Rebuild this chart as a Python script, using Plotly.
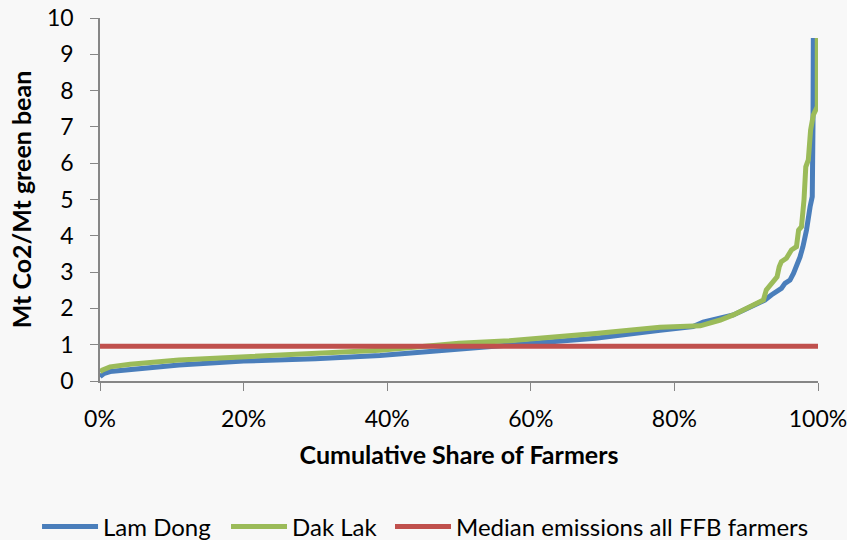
import plotly.graph_objects as go

# Cumulative share of farmers (fraction) and emissions (Mt CO2 / Mt green bean)
lam_dong_share = [0.0, 0.005, 0.014, 0.042, 0.11, 0.20, 0.30, 0.39, 0.50, 0.57, 0.69, 0.78,
                  0.826, 0.84, 0.864, 0.882, 0.896, 0.914, 0.926, 0.935, 0.942, 0.949, 0.954,
                  0.961, 0.966, 0.970, 0.975, 0.979, 0.984, 0.989, 0.992, 0.993, 0.9935]
lam_dong_vals = [0.12, 0.20, 0.26, 0.32, 0.44, 0.55, 0.61, 0.70, 0.88, 0.99, 1.18, 1.40,
                 1.50, 1.62, 1.75, 1.82, 1.95, 2.10, 2.23, 2.37, 2.46, 2.55, 2.69,
                 2.78, 2.97, 3.15, 3.42, 3.70, 4.16, 4.80, 5.08, 7.0, 9.45]

dak_lak_share = [0.0, 0.003, 0.014, 0.042, 0.11, 0.20, 0.30, 0.39, 0.50, 0.57, 0.69, 0.78,
                 0.836, 0.864, 0.882, 0.896, 0.914, 0.924, 0.928, 0.933, 0.943, 0.946, 0.949,
                 0.956, 0.963, 0.970, 0.973, 0.977, 0.9805, 0.983, 0.9865, 0.9897, 0.9935,
                 0.999, 0.999]
dak_lak_vals = [0.25, 0.30, 0.39, 0.46, 0.58, 0.67, 0.78, 0.85, 1.04, 1.11, 1.31, 1.48,
                1.52, 1.68, 1.82, 1.96, 2.14, 2.23, 2.51, 2.64, 2.87, 3.15, 3.29,
                3.38, 3.61, 3.70, 4.16, 4.25, 4.99, 5.90, 6.09, 6.91, 7.33,
                7.56, 9.45]

median_share = [0.0, 1.0]
median_vals = [0.96, 0.96]

x_tickvals = [0, 0.2, 0.4, 0.6, 0.8, 1.0]

FONT = "Lato"
BG = "#f8f8f8"

fig = go.Figure()
fig.add_trace(go.Scatter(x=lam_dong_share, y=lam_dong_vals, mode="lines", name="Lam Dong",
                         line=dict(color="#4A7EBB", width=5), legend="legend"))
fig.add_trace(go.Scatter(x=dak_lak_share, y=dak_lak_vals, mode="lines", name="Dak Lak",
                         line=dict(color="#9BBB59", width=5), legend="legend2"))
fig.add_trace(go.Scatter(x=median_share, y=median_vals, mode="lines",
                         name="Median emissions all FFB farmers",
                         line=dict(color="#C0504D", width=5), legend="legend3"))

leg_common = dict(orientation="h", xanchor="left", y=-0.34, yanchor="top",
                  font=dict(size=24), itemwidth=56, tracegroupgap=0,
                  bgcolor="rgba(0,0,0,0)")

fig.update_layout(
    width=847, height=540,
    margin=dict(l=100, r=29, t=18, b=159, autoexpand=False),
    paper_bgcolor=BG, plot_bgcolor=BG,
    font=dict(family=FONT, size=23, color="#000000"),
    showlegend=True,
    legend=dict(x=-0.0877, **leg_common),
    legend2=dict(x=0.1755, **leg_common),
    legend3=dict(x=0.4039, **leg_common),
)
fig.update_xaxes(range=[0, 1], tickvals=x_tickvals, tickformat=".0%",
                 showgrid=False, zeroline=False, showline=True, linecolor="#868686",
                 linewidth=1.5, ticks="outside", ticklen=8, tickcolor="#868686",
                 ticklabelstandoff=9, ticklabeloverflow="allow",
                 title=dict(text="<b>Cumulative Share of Farmers</b>", standoff=15,
                            font=dict(size=25)))
fig.update_yaxes(range=[0, 10], dtick=1, showgrid=False, zeroline=False, showline=True,
                 linecolor="#868686", linewidth=1.5, ticks="outside", ticklen=8,
                 tickcolor="#868686", ticklabelstandoff=12,
                 title=dict(text="<b>Mt Co2/Mt green bean</b>", standoff=8,
                            font=dict(size=25)))

fig.write_html("out.html", config={"displayModeBar": False},
               post_script="document.body.style.margin='0';"
                           "document.body.style.background='" + BG + "';")
